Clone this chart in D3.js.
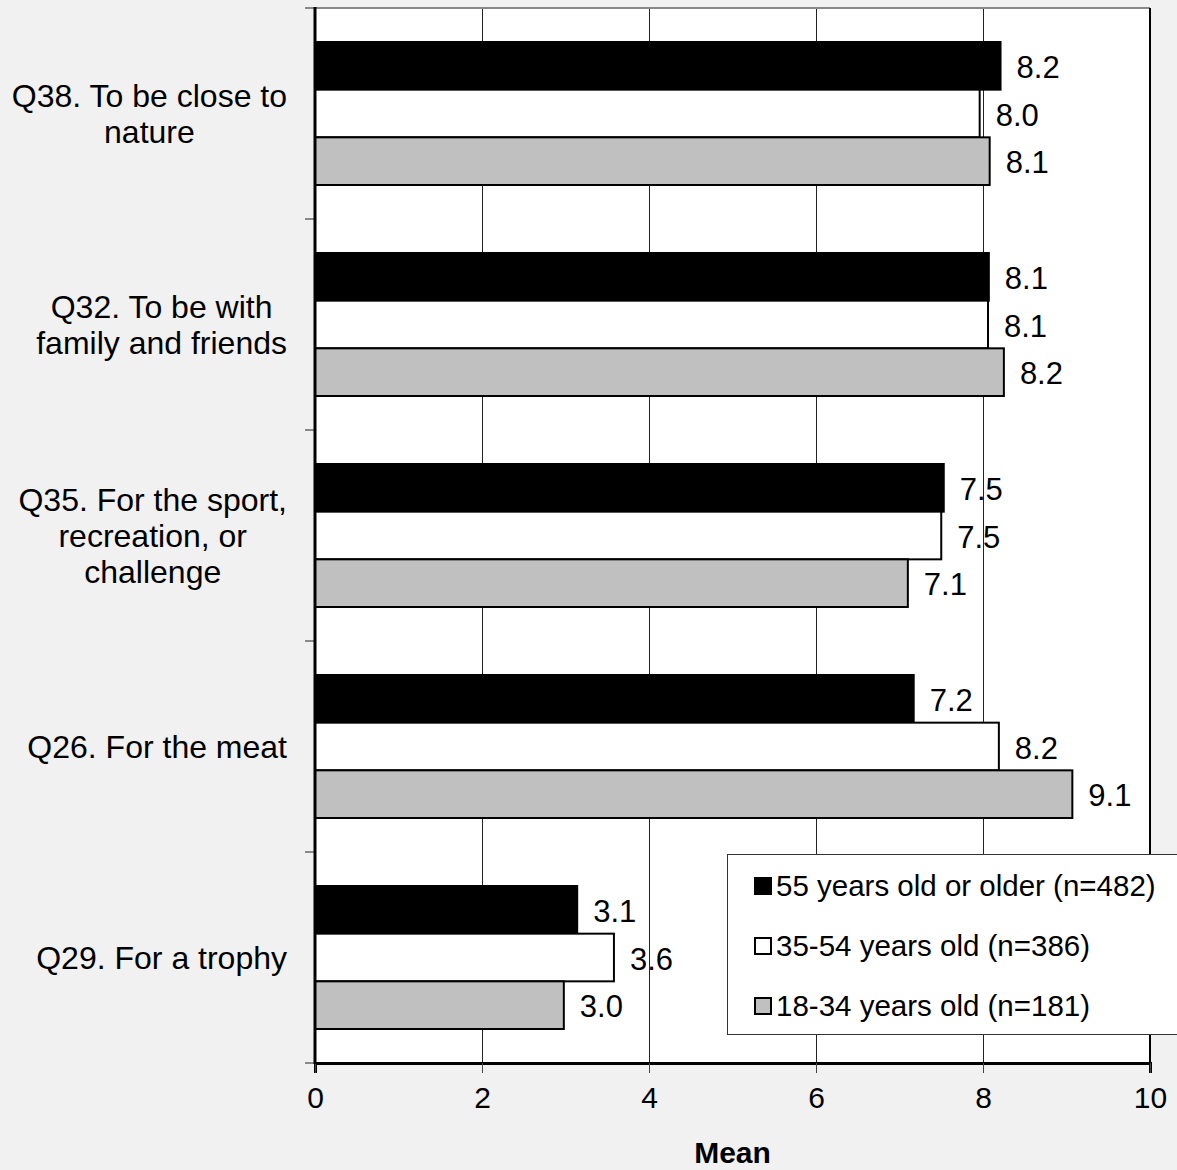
<!DOCTYPE html>
<html>
<head>
<meta charset="utf-8">
<script src="https://cdn.jsdelivr.net/npm/d3@7"></script>
<style>
body { margin: 0; background: #f1f1f1; }
svg { display: block; font-family: "Liberation Sans", Arial, sans-serif; }
</style>
</head>
<body>
<svg width="1177" height="1170"></svg>
<script>
// categories, top to bottom, each split into its label lines
var categories = ["Q38", "Q32", "Q35", "Q26", "Q29"];
var categoryLines = [
    ["Q38. To be close to", "nature"],
    ["Q32. To be with", "family and friends"],
    ["Q35. For the sport,", "recreation, or", "challenge"],
    ["Q26. For the meat"],
    ["Q29. For a trophy"]
];
var seriesNames = ["55 years old or older (n=482)", "35-54 years old (n=386)", "18-34 years old (n=181)"];
var seriesColors = ["#000000", "#ffffff", "#c0c0c0"];
var older = [8.21, 8.07, 7.53, 7.17, 3.14];
var middle = [7.96, 8.06, 7.50, 8.19, 3.58];
var younger = [8.08, 8.25, 7.10, 9.07, 2.98];
var labels = [
    ["8.2", "8.1", "7.5", "7.2", "3.1"],
    ["8.0", "8.1", "7.5", "8.2", "3.6"],
    ["8.1", "8.2", "7.1", "9.1", "3.0"]
];
var xTicks = [0, 2, 4, 6, 8, 10];

var series = [older, middle, younger];

var svg = d3.select("svg");
var plotLeft = 315, plotRight = 1150, plotTop = 8, plotBottom = 1063;

var x = d3.scaleLinear().domain([0, 10]).range([plotLeft, plotRight]);
var y = d3.scaleBand().domain(categories).range([plotTop, plotBottom]);
var yInner = d3.scaleBand().domain(d3.range(3)).range([34, y.bandwidth() - 34]);

// plot background
svg.append("rect")
    .attr("x", plotLeft).attr("y", plotTop)
    .attr("width", plotRight - plotLeft).attr("height", plotBottom - plotTop)
    .attr("fill", "#fff");

// vertical grid lines
svg.append("g").selectAll("line")
    .data(xTicks.slice(1, -1))
    .enter().append("line")
    .attr("x1", d => Math.round(x(d)) + 0.5).attr("x2", d => Math.round(x(d)) + 0.5)
    .attr("y1", plotTop).attr("y2", plotBottom)
    .attr("stroke", "#222").attr("stroke-width", 1);

// bars
var groups = svg.append("g").selectAll("g")
    .data(categories)
    .enter().append("g")
    .attr("transform", d => "translate(0," + y(d) + ")");

groups.each(function(cat, ci) {
    var g = d3.select(this);
    series.forEach(function(vals, si) {
        g.append("rect")
            .attr("x", x(0))
            .attr("y", yInner(si))
            .attr("width", x(vals[ci]) - x(0))
            .attr("height", yInner.bandwidth())
            .attr("fill", seriesColors[si])
            .attr("stroke", "#000")
            .attr("stroke-width", 2);
        g.append("text")
            .attr("x", x(vals[ci]) + 16)
            .attr("y", yInner(si) + yInner.bandwidth() / 2 + 12)
            .attr("font-size", 31)
            .attr("fill", "#000")
            .text(labels[si][ci]);
    });
});

// plot frame
svg.append("line").attr("x1", plotLeft).attr("x2", plotRight).attr("y1", plotTop).attr("y2", plotTop)
    .attr("stroke", "#888").attr("stroke-width", 2);
svg.append("line").attr("x1", plotRight).attr("x2", plotRight).attr("y1", plotTop).attr("y2", plotBottom)
    .attr("stroke", "#000").attr("stroke-width", 2);

// x axis
var xAxis = d3.axisBottom(x).tickValues(xTicks).tickSize(10).tickPadding(14);
var gx = svg.append("g").attr("transform", "translate(0," + plotBottom + ")").call(xAxis);
gx.select(".domain").attr("stroke", "#000").attr("stroke-width", 3);
gx.selectAll(".tick line").attr("stroke", "#444");
gx.selectAll(".tick text").attr("font-size", 30).attr("font-family", "Liberation Sans, Arial, sans-serif").attr("fill", "#000");

// y axis: tick marks at band edges
var edges = categories.map(d => y(d)).concat([plotBottom]);
svg.append("g").selectAll("line")
    .data(edges)
    .enter().append("line")
    .attr("x1", plotLeft - 10).attr("x2", plotLeft)
    .attr("y1", d => d).attr("y2", d => d)
    .attr("stroke", "#666").attr("stroke-width", 1.5);
svg.append("line").attr("x1", plotLeft).attr("x2", plotLeft).attr("y1", plotTop - 1).attr("y2", plotBottom + 1)
    .attr("stroke", "#000").attr("stroke-width", 3);

// category labels, centred on the widest line, right edge at 287
categoryLines.forEach(function(lines, ci) {
    var t = svg.append("text").attr("font-size", 32).attr("fill", "#000").attr("text-anchor", "middle");
    var cy = y(categories[ci]) + y.bandwidth() / 2;
    var spans = lines.map(function(line, li) {
        return t.append("tspan")
            .attr("y", cy + 11 + (li - (lines.length - 1) / 2) * 36)
            .text(line);
    });
    var maxW = d3.max(spans, s => s.node().getComputedTextLength());
    spans.forEach(s => s.attr("x", 287 - maxW / 2));
});

// axis title
svg.append("text")
    .attr("x", (plotLeft + plotRight) / 2).attr("y", 1163)
    .attr("text-anchor", "middle")
    .attr("font-size", 30).attr("font-weight", "bold")
    .text("Mean");

// legend
var legend = svg.append("g");
legend.append("rect")
    .attr("x", 727.5).attr("y", 854.5).attr("width", 470).attr("height", 180)
    .attr("fill", "#fff").attr("stroke", "#333").attr("stroke-width", 1);
seriesNames.forEach(function(name, si) {
    var cy = 886 + si * 60;
    legend.append("rect")
        .attr("x", 755).attr("y", cy - 8).attr("width", 16).attr("height", 16)
        .attr("fill", seriesColors[si]).attr("stroke", "#000").attr("stroke-width", 2);
    legend.append("text")
        .attr("x", 776).attr("y", cy + 10)
        .attr("font-size", 29.5).attr("fill", "#000")
        .text(name);
});
</script>
</body>
</html>
